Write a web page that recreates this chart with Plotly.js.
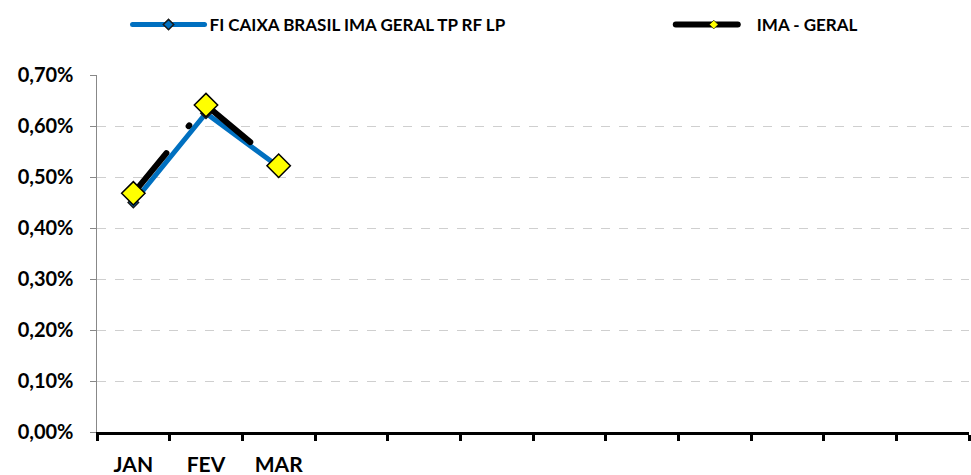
<!DOCTYPE html>
<html>
<head>
<meta charset="utf-8">
<script src="https://cdn.plot.ly/plotly-3.0.1.min.js"></script>
<style>
  html, body { margin: 0; padding: 0; background: #fff; }
  #chart { width: 971px; height: 475px; }
</style>
</head>
<body>
<div id="chart"></div>
<script>
// months on the axis (only the first quarter is labelled)
const months = ['JAN', 'FEV', 'MAR', 'ABR', 'MAI', 'JUN', 'JUL', 'AGO', 'SET', 'OUT', 'NOV', 'DEZ'];
const monthLabels = ['JAN', 'FEV', 'MAR', '', '', '', '', '', '', '', '', ''];

// monthly returns, in %
const fundName = 'FI CAIXA BRASIL IMA GERAL TP RF LP';
const fundValues = [0.45, 0.625, 0.52];
const benchName = 'IMA - GERAL';
const benchValues = [0.468, 0.641, 0.522];

const yTicks = [0, 0.1, 0.2, 0.3, 0.4, 0.5, 0.6, 0.7];

const pct = v => v / 100;

const fundTrace = {
    x: months.slice(0, fundValues.length),
    y: fundValues.map(pct),
    type: 'scatter',
    mode: 'lines+markers',
    name: fundName,
    legend: 'legend',
    line: { color: '#0070C0', width: 5 },
    marker: { symbol: 'diamond', size: 8, color: '#0070C0', line: { color: '#1a1a1a', width: 1.5 } }
};

const benchTrace = {
    x: months.slice(0, benchValues.length),
    y: benchValues.map(pct),
    type: 'scatter',
    mode: 'lines+markers',
    name: benchName,
    legend: 'legend2',
    line: { color: '#000000', width: 6, dash: '52px,35px,1px,32px' },
    marker: { symbol: 'diamond', size: 18, color: '#FFFF00', line: { color: '#000000', width: 1.5 } }
};

const legendBase = {
    orientation: 'h',
    xanchor: 'left',
    y: 1.14,
    yanchor: 'middle',
    bgcolor: 'rgba(0,0,0,0)',
    font: { size: 17, weight: 'bold' }
};

const layout = {
    width: 971,
    height: 475,
    margin: { l: 97, r: 2, t: 75, b: 43 },
    paper_bgcolor: '#ffffff',
    plot_bgcolor: '#ffffff',
    separators: ',.',
    font: { family: 'Lato, "Open Sans", sans-serif', size: 20, color: '#000', weight: 'bold' },
    showlegend: true,
    legend: Object.assign({}, legendBase, { x: 0.035, itemwidth: 72 }),
    legend2: Object.assign({}, legendBase, { x: 0.658, itemwidth: 76 }),
    xaxis: {
        type: 'category',
        categoryorder: 'array',
        categoryarray: months,
        range: [-0.5, 11.5],
        tickmode: 'array',
        tickvals: months,
        ticktext: monthLabels,
        tickson: 'boundaries',
        ticks: 'outside',
        ticklen: 6,
        tickwidth: 3,
        tickcolor: '#000',
        ticklabelstandoff: 12,
        showline: true,
        linecolor: '#000',
        linewidth: 3,
        showgrid: false,
        zeroline: false,
        tickfont: { size: 21, weight: 'bold' },
        fixedrange: true
    },
    yaxis: {
        range: [0, pct(0.7)],
        tickmode: 'array',
        tickvals: yTicks.map(pct),
        tickformat: '.2%',
        ticks: 'outside',
        ticklen: 6,
        tickcolor: '#888',
        ticklabelstandoff: 12,
        showline: true,
        linecolor: '#888',
        linewidth: 1.5,
        showgrid: true,
        gridcolor: '#cfcfcf',
        griddash: 'dash',
        gridwidth: 1,
        zeroline: false,
        tickfont: { size: 20, weight: 'bold' },
        fixedrange: true
    }
};

Plotly.newPlot('chart', [fundTrace, benchTrace], layout, { displayModeBar: false, staticPlot: true })
    .then(() => {
        // Excel draws the dashes with round caps
        document.querySelectorAll('.js-line').forEach(p => {
            p.style.strokeLinecap = 'round';
        });
        // legend keys: solid lines, small yellow marker, shorter black key
        document.querySelectorAll('.legendlines path').forEach(p => {
            p.style.strokeLinecap = 'round';
            p.style.strokeDasharray = 'none';
        });
        const key2 = document.querySelector('.legend2 .legendlines path');
        if (key2) key2.setAttribute('d', 'M5,0h62');
        const pts2 = document.querySelector('.legend2 .legendpoints path.scatterpts');
        if (pts2) {
            const t = pts2.getAttribute('transform') || '';
            pts2.setAttribute('transform', t + ' scale(0.42)');
        }
    });
</script>
</body>
</html>
